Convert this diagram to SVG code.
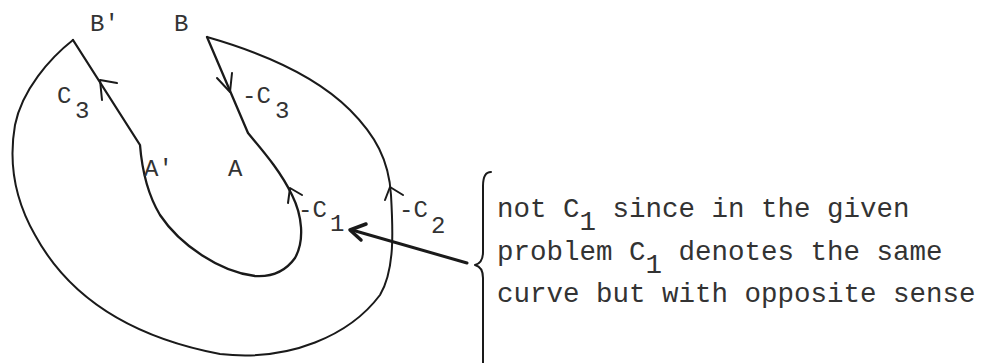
<svg xmlns="http://www.w3.org/2000/svg" width="983" height="363" viewBox="0 0 983 363">
<style>
.c{fill:none;stroke:#1a1a1a;stroke-width:2;stroke-linejoin:round;stroke-linecap:round}
.lbl{font-family:"Liberation Mono",monospace;font-size:24px;fill:#333}
.txt{font-family:"Liberation Mono",monospace;font-size:27.5px;fill:#333}
</style>
<rect width="983" height="363" fill="#fff"/>
<g id="connectors">
<path id="outer" class="c" d="M73,40 C50,58 22,90 15,125 C8,165 15,200 35,235 C65,290 120,335 220,354 C290,362 350,335 380,295 C395,270 393,230 391,195 C389,160 375,135 350,110 C320,80 270,55 207,37"/>
<path id="inner" class="c" d="M207,37 L248,133 C262,150 280,170 292,195 C302,215 305,240 295,258 C285,272 270,277 255,276 C220,272 180,245 160,215 C148,195 142,170 140,145 L73,40" style="stroke-width:2.3"/>
<path class="c" d="M117,83 L100,80 L102,100"/>
<path class="c" d="M217,78 L230,92 L232,73"/>
<path class="c" d="M288,203 L290,188 L302,195"/>
<path class="c" d="M385,200 L390,187 L403,195"/>
<path class="c" style="stroke-width:3" d="M467,263 L352,230"/>
<path class="c" style="stroke-width:3.5" d="M366,224 L350,230 L361,240"/>
<path id="brace" class="c" d="M491,172 Q483,172 483,186 L483,252 Q483,263 475,265 Q483,267 483,278 L483,363"/>
</g>
<g id="labels">
<text class="lbl" x="90" y="31">B'</text>
<text class="lbl" x="174" y="31">B</text>
<text class="lbl" x="57" y="103">C<tspan x="75" y="118">3</tspan></text>
<text class="lbl" x="242" y="103">-C<tspan x="275" y="118">3</tspan></text>
<text class="lbl" x="144" y="176">A'</text>
<text class="lbl" x="228" y="176">A</text>
<text class="lbl" x="298" y="217">-C<tspan x="330" y="231">1</tspan></text>
<text class="lbl" x="399" y="217">-C<tspan x="431" y="233">2</tspan></text>
</g>
<g id="note">
<text class="txt" x="497" y="217">not C<tspan dy="13">1</tspan><tspan dy="-13"> since in the given</tspan></text>
<text class="txt" x="497" y="260">problem C<tspan dy="13">1</tspan><tspan dy="-13"> denotes the same</tspan></text>
<text class="txt" x="497" y="302">curve but with opposite sense</text>
</g>
</svg>
